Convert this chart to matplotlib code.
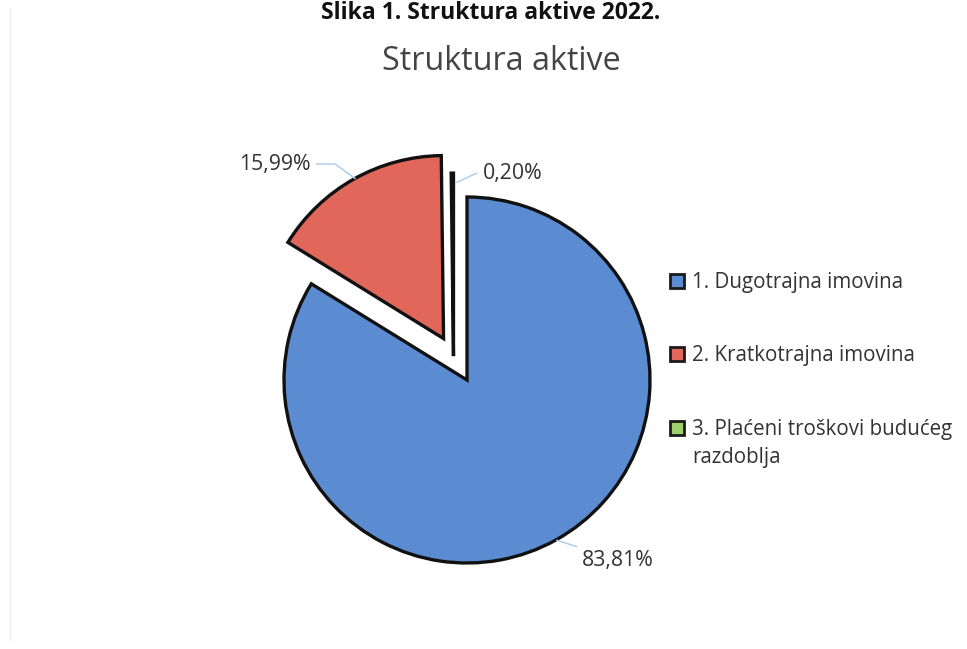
import numpy as np
import matplotlib.pyplot as plt
from matplotlib.lines import Line2D
from matplotlib.patches import Rectangle

# Data
categories = ['1. Dugotrajna imovina', '2. Kratkotrajna imovina',
              '3. Plaćeni troškovi budućeg\nrazdoblja']
shares = [83.81, 15.99, 0.20]
labels = ['83,81%', '15,99%', '0,20%']
colors = ['#5B8BD0', '#E0675A', '#9DD06A']

plt.rcParams['font.family'] = ['Open Sans', 'DejaVu Sans']

W, H = 967, 649
fig = plt.figure(figsize=(W / 100, H / 100), dpi=100)

# pie centre and radius in pixels
cx, cy, r = 467, 380, 183
span = 1.4
ax = fig.add_axes([(cx - span * r) / W, (H - cy - span * r) / H,
                   2 * span * r / W, 2 * span * r / H])

wedges, _ = ax.pie(shares, colors=colors, startangle=90, counterclock=False,
                   explode=[0, 0.26, 0],
                   wedgeprops=dict(edgecolor='#111111', linewidth=2.4))
ax.set_xlim(-span, span)
ax.set_ylim(-span, span)
ax.set_aspect('equal')
ax.axis('off')

# small slice pushed out along the same direction as the red one
t1, t2 = wedges[1].theta1, wedges[1].theta2
mid = np.deg2rad((t1 + t2) / 2)
wedges[2].set_center((0.15 * np.cos(mid), 0.15 * np.sin(mid)))

# data labels with leader lines
lead = '#A9CBE8'
txt = dict(fontsize=15.3, color='#333333', va='center')
ax.annotate(labels[0], xy=(0.49, -0.875), xytext=(0.63, -0.985), ha='left',
            arrowprops=dict(arrowstyle='-', color=lead, lw=1,
                            shrinkA=2, shrinkB=0), **txt)
ax.annotate(labels[1], xy=(-0.61, 1.10), xytext=(-0.855, 1.18), ha='right',
            arrowprops=dict(arrowstyle='-', color=lead, lw=1,
                            connectionstyle='angle,angleA=0,angleB=-36,rad=0',
                            shrinkA=2, shrinkB=0), **txt)
ax.annotate(labels[2], xy=(-0.055, 1.08), xytext=(0.085, 1.13), ha='left',
            arrowprops=dict(arrowstyle='-', color=lead, lw=1,
                            connectionstyle='angle,angleA=0,angleB=25,rad=0',
                            shrinkA=2, shrinkB=0), **txt)

# titles
fig.text(491 / W, 1 - 1 / H, 'Slika 1. Struktura aktive 2022.', ha='center',
         va='top', fontsize=16.5, fontweight='bold', color='#111111')
fig.text(501 / W, 1 - 62 / H, 'Struktura aktive', ha='center', va='center',
         fontsize=23.2, color='#444444')

# legend (drawn by hand so the marker sits on the first text line)
legend_rows = [281, 354, 428]
for c, lab, yr in zip(colors, categories, legend_rows):
    fig.add_artist(Rectangle((669.5 / W, 1 - (yr + 7) / H), 14 / W, 14 / H,
                             facecolor=c, edgecolor='#1A1A1A', lw=2,
                             transform=fig.transFigure))
    fig.text(692 / W, 1 - (yr - 9) / H, lab, ha='left', va='top',
             fontsize=14.8, color='#333333', linespacing=1.46)

# faint frame line on the left (scan edge)
fig.add_artist(Line2D([10 / W, 10 / W], [1 - 640 / H, 1 - 8 / H],
                      color='#EBEBEB', lw=1))

fig.savefig('out.png', dpi=100)
